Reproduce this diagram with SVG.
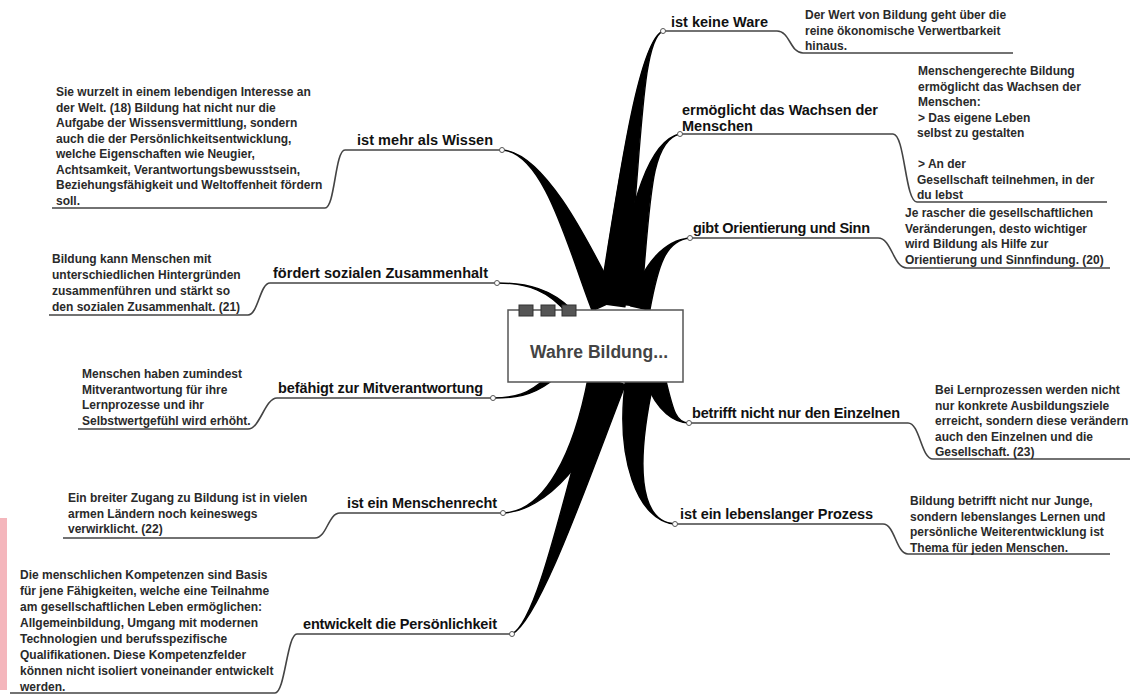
<svg xmlns="http://www.w3.org/2000/svg" width="1139" height="695" viewBox="0 0 1139 695">
<style>
.br{fill:#000;stroke:#000;stroke-width:1.4;stroke-linejoin:round}
.ul{fill:none;stroke:#444;stroke-width:1.6}
.dot{fill:#fff;stroke:#555;stroke-width:1}
.t{font-family:"Liberation Sans",Arial,sans-serif;font-weight:bold;font-size:14.5px;fill:#111}
.d{font-family:"Liberation Sans",Arial,sans-serif;font-weight:bold;font-size:12px;fill:#2a2a2a}
.c{font-family:"Liberation Sans",Arial,sans-serif;font-weight:bold;font-size:17.5px;fill:#444}
</style>
<rect x="0" y="518" width="7" height="172" fill="#f4b6bc"/>
<g id="connectors">
<path class="br" d="M 617.8,299.2 C 590.2,245.4 545,152 502,150 C 545,152 569.8,254.6 592.2,310.8 Z"/>
<path class="br" d="M 572.1,309.9 C 551,289 528,283 497,283 C 528,283 549,291 567.9,314.1 Z"/>
<path class="br" d="M 549.9,382.3 C 531,396.2 515,398 493,398 C 515,398 529,393.9 546.1,377.7 Z"/>
<path class="br" d="M 615.7,383.1 C 595.9,457.5 545,512 503,513 C 545,512 574.1,452.5 588.3,376.9 Z"/>
<path class="br" d="M 625.2,384.7 C 590.5,473.75 540,620 512,634 C 540,620 569.5,466.25 598.8,375.3 Z"/>
<path class="br" d="M 624.9,306.8 C 642.3,161.4 640,40 663,31 C 640,40 621.7,158.6 599.1,303.2 Z"/>
<path class="br" d="M 640.9,306.5 C 650.3,201.2 650,140 680,134 C 650,140 629.7,198.8 615.1,303.5 Z"/>
<path class="br" d="M 649.8,310.3 C 657.8,266.8 665,240 690,238 C 665,240 642.2,263.2 630.2,305.7 Z"/>
<path class="br" d="M 664.6,375 C 672.6,407.6 675,423 689,423 C 675,423 657.4,412.4 645.4,381 Z"/>
<path class="br" d="M 653.8,380.5 C 636,462 638,522 675,524 C 638,522 614,458 626.2,375.5 Z"/>
<path class="ul" d="M 502,150 H 345 C 335,150 335,208 325,208 H 52"/>
<path class="ul" d="M 497,283 H 270 C 260,283 258,315 248,315 H 49"/>
<path class="ul" d="M 493,398 H 277 C 265,398 260,429 248,429 H 78"/>
<path class="ul" d="M 503,513 H 340 C 328,513 327,538 315,538 H 63"/>
<path class="ul" d="M 512,634 H 297 C 287,634 285,693 275,693 H 10"/>
<path class="ul" d="M 663,31 H 777 C 790,31 790,53 803,53 H 1013"/>
<path class="ul" d="M 680,134 H 893 C 905,134 905,202 917,202 H 1107"/>
<path class="ul" d="M 690,238 H 878 C 892,238 893,268 907,268 H 1110"/>
<path class="ul" d="M 689,423 H 908 C 920,423 921,459 933,459 H 1130"/>
<path class="ul" d="M 675,524 H 883 C 895,524 896,554 908,554 H 1110"/>
<circle class="dot" cx="502" cy="150" r="2.5"/>
<circle class="dot" cx="497" cy="283" r="2.5"/>
<circle class="dot" cx="493" cy="398" r="2.5"/>
<circle class="dot" cx="503" cy="513" r="2.5"/>
<circle class="dot" cx="512" cy="634" r="2.5"/>
<circle class="dot" cx="663" cy="31" r="2.5"/>
<circle class="dot" cx="680" cy="134" r="2.5"/>
<circle class="dot" cx="690" cy="238" r="2.5"/>
<circle class="dot" cx="689" cy="423" r="2.5"/>
<circle class="dot" cx="675" cy="524" r="2.5"/>
</g>
<g id="center">
<rect x="508" y="310" width="175" height="72" fill="#fff" stroke="#555" stroke-width="1.5"/>
<rect x="519" y="305" width="14" height="11" fill="#555" stroke="#333"/>
<rect x="541" y="305" width="14" height="11" fill="#555" stroke="#333"/>
<rect x="562" y="305" width="14" height="11" fill="#555" stroke="#333"/>
<text class="c" x="530" y="358" textLength="138">Wahre Bildung...</text>
</g>
<g id="n-wissen">
<text class="t" x="357" y="145" textLength="136">ist mehr als Wissen</text>
<text class="d" x="56"><tspan x="56" y="96">Sie wurzelt in einem lebendigen Interesse an</tspan><tspan x="56" y="111.5">der Welt. (18) Bildung hat nicht nur die</tspan><tspan x="56" y="127">Aufgabe der Wissensvermittlung, sondern</tspan><tspan x="56" y="142.5">auch die der Persönlichkeitsentwicklung,</tspan><tspan x="56" y="158">welche Eigenschaften wie Neugier,</tspan><tspan x="56" y="173.5">Achtsamkeit, Verantwortungsbewusstsein,</tspan><tspan x="56" y="189">Beziehungsfähigkeit und Weltoffenheit fördern</tspan><tspan x="56" y="204.5">soll.</tspan></text>
</g>
<g id="n-zusammenhalt">
<text class="t" x="273" y="278" textLength="215">fördert sozialen Zusammenhalt</text>
<text class="d"><tspan x="52" y="263">Bildung kann Menschen mit</tspan><tspan x="52" y="279">unterschiedlichen Hintergründen</tspan><tspan x="52" y="295">zusammenführen und stärkt so</tspan><tspan x="52" y="311">den sozialen Zusammenhalt. (21)</tspan></text>
</g>
<g id="n-mitverantwortung">
<text class="t" x="278" y="393" textLength="205">befähigt zur Mitverantwortung</text>
<text class="d"><tspan x="82" y="378">Menschen haben zumindest</tspan><tspan x="82" y="393.5">Mitverantwortung für ihre</tspan><tspan x="82" y="409">Lernprozesse und ihr</tspan><tspan x="82" y="425">Selbstwertgefühl wird erhöht.</tspan></text>
</g>
<g id="n-menschenrecht">
<text class="t" x="347" y="508" textLength="150">ist ein Menschenrecht</text>
<text class="d"><tspan x="68" y="502">Ein breiter Zugang zu Bildung ist in vielen</tspan><tspan x="68" y="517.5">armen Ländern noch keineswegs</tspan><tspan x="68" y="533">verwirklicht. (22)</tspan></text>
</g>
<g id="n-persoenlichkeit">
<text class="t" x="303" y="629" textLength="194">entwickelt die Persönlichkeit</text>
<text class="d"><tspan x="20" y="579">Die menschlichen Kompetenzen sind Basis</tspan><tspan x="20" y="595">für jene Fähigkeiten, welche eine Teilnahme</tspan><tspan x="20" y="611">am gesellschaftlichen Leben ermöglichen:</tspan><tspan x="20" y="627">Allgemeinbildung, Umgang mit modernen</tspan><tspan x="20" y="643">Technologien und berufsspezifische</tspan><tspan x="20" y="659">Qualifikationen. Diese Kompetenzfelder</tspan><tspan x="20" y="675">können nicht isoliert voneinander entwickelt</tspan><tspan x="20" y="691">werden.</tspan></text>
</g>
<g id="n-ware">
<text class="t" x="671" y="27" textLength="97">ist keine Ware</text>
<text class="d"><tspan x="805" y="19">Der Wert von Bildung geht über die</tspan><tspan x="805" y="34.5">reine ökonomische Verwertbarkeit</tspan><tspan x="805" y="50">hinaus.</tspan></text>
</g>
<g id="n-wachsen">
<text class="t"><tspan x="682" y="115" textLength="196">ermöglicht das Wachsen der</tspan><tspan x="682" y="130.5">Menschen</tspan></text>
<text class="d"><tspan x="918" y="75">Menschengerechte Bildung</tspan><tspan x="918" y="90.5">ermöglicht das Wachsen der</tspan><tspan x="918" y="106">Menschen:</tspan><tspan x="918" y="121.5">&gt; Das eigene Leben</tspan><tspan x="917" y="137">selbst zu gestalten</tspan><tspan x="918" y="168">&gt; An der</tspan><tspan x="917" y="183.5">Gesellschaft teilnehmen, in der</tspan><tspan x="917" y="199">du lebst</tspan></text>
</g>
<g id="n-orientierung">
<text class="t" x="693" y="233" textLength="177">gibt Orientierung und Sinn</text>
<text class="d"><tspan x="905" y="217">Je rascher die gesellschaftlichen</tspan><tspan x="905" y="232.5">Veränderungen, desto wichtiger</tspan><tspan x="905" y="248">wird Bildung als Hilfe zur</tspan><tspan x="905" y="263.5">Orientierung und Sinnfindung. (20)</tspan></text>
</g>
<g id="n-einzelnen">
<text class="t" x="692" y="418" textLength="208">betrifft nicht nur den Einzelnen</text>
<text class="d"><tspan x="935" y="394">Bei Lernprozessen werden nicht</tspan><tspan x="935" y="409.5">nur konkrete Ausbildungsziele</tspan><tspan x="935" y="425">erreicht, sondern diese verändern</tspan><tspan x="935" y="440.5">auch den Einzelnen und die</tspan><tspan x="935" y="456">Gesellschaft. (23)</tspan></text>
</g>
<g id="n-prozess">
<text class="t" x="680" y="519" textLength="193">ist ein lebenslanger Prozess</text>
<text class="d"><tspan x="910" y="505">Bildung betrifft nicht nur Junge,</tspan><tspan x="910" y="520.5">sondern lebenslanges Lernen und</tspan><tspan x="910" y="536">persönliche Weiterentwicklung ist</tspan><tspan x="910" y="551.5">Thema für jeden Menschen.</tspan></text>
</g>
</svg>
